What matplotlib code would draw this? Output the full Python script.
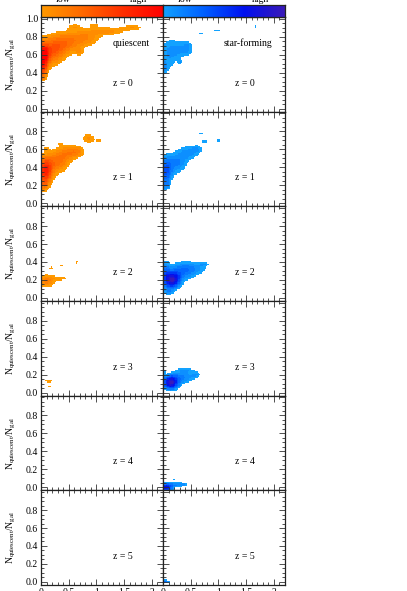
import numpy as np
import matplotlib
matplotlib.use('Agg')
import matplotlib.pyplot as plt
from matplotlib.colors import LinearSegmentedColormap, BoundaryNorm
from matplotlib.ticker import MultipleLocator, FixedLocator

plt.rcParams['font.family'] = ['Liberation Serif', 'DejaVu Serif']
plt.rcParams['mathtext.fontset'] = 'custom'
plt.rcParams['mathtext.rm'] = 'Liberation Serif'
plt.rcParams['mathtext.it'] = 'Liberation Serif:italic'

# ---------------- data ----------------
redshifts = [0, 1, 2, 3, 4, 5]
population_labels = ['quiescent', 'star-forming']
x_ticks = [0, 0.5, 1, 1.5, 2]
x_ticklabels = ['0', '0.5', '1', '1.5', '2']
y_ticks = [0.0, 0.2, 0.4, 0.6, 0.8, 1.0]
y_ticklabels = ['0.0', '0.2', '0.4', '0.6', '0.8', '1.0']

# density components: (x, y, sigma_x, sigma_y, weight)
q_z0 = [(0.04, 0.58, 0.07, 0.09, 1.00), (0.20, 0.64, 0.15, 0.10, 0.50),
        (0.04, 0.42, 0.05, 0.07, 0.40), (0.45, 0.73, 0.18, 0.08, 0.38),
        (0.80, 0.79, 0.18, 0.065, 0.28), (1.20, 0.86, 0.22, 0.035, 0.24),
        (1.65, 0.90, 0.14, 0.022, 0.20), (0.60, 0.91, 0.08, 0.025, 0.17),
        (0.95, 0.93, 0.06, 0.02, 0.16), (0.05, 0.33, 0.03, 0.012, 0.15),
        (0.70, 0.63, 0.06, 0.03, 0.16)]
sf_z0 = [(0.10, 0.60, 0.13, 0.14, 0.19), (0.30, 0.66, 0.13, 0.07, 0.17),
         (0.45, 0.68, 0.07, 0.06, 0.17), (0.03, 0.45, 0.04, 0.05, 0.17),
         (0.01, 0.30, 0.015, 0.015, 0.16), (0.68, 0.84, 0.05, 0.016, 0.17),
         (0.97, 0.87, 0.06, 0.013, 0.16), (1.66, 0.91, 0.03, 0.013, 0.17),
         (0.31, 0.52, 0.03, 0.02, 0.15)]
q_z1 = [(0.08, 0.36, 0.09, 0.10, 0.85), (0.30, 0.46, 0.13, 0.08, 0.40),
        (0.05, 0.20, 0.05, 0.05, 0.25), (0.50, 0.56, 0.14, 0.06, 0.30),
        (0.66, 0.58, 0.09, 0.04, 0.20), (0.86, 0.72, 0.09, 0.04, 0.22),
        (1.05, 0.70, 0.04, 0.015, 0.16), (0.10, 0.61, 0.04, 0.018, 0.15),
        (0.35, 0.66, 0.04, 0.012, 0.15)]
sf_z1 = [(0.05, 0.36, 0.08, 0.10, 0.50), (0.25, 0.45, 0.12, 0.08, 0.30),
         (0.45, 0.56, 0.12, 0.06, 0.22), (0.05, 0.20, 0.05, 0.04, 0.20),
         (0.62, 0.60, 0.08, 0.04, 0.17), (0.75, 0.69, 0.06, 0.025, 0.16),
         (1.00, 0.70, 0.05, 0.015, 0.16), (0.68, 0.77, 0.06, 0.013, 0.16)]
q_z2 = [(0.10, 0.19, 0.10, 0.05, 0.34), (0.35, 0.22, 0.10, 0.025, 0.18),
        (0.19, 0.33, 0.035, 0.014, 0.18), (0.38, 0.36, 0.035, 0.014, 0.18),
        (0.64, 0.40, 0.03, 0.014, 0.18)]
sf_z2 = [(0.16, 0.20, 0.10, 0.06, 1.00), (0.35, 0.30, 0.15, 0.07, 0.35),
         (0.60, 0.33, 0.15, 0.05, 0.20), (0.05, 0.30, 0.05, 0.08, 0.30),
         (0.10, 0.07, 0.06, 0.03, 0.25), (0.75, 0.38, 0.06, 0.02, 0.16)]
q_z3 = [(0.14, 0.13, 0.06, 0.014, 0.20), (0.16, 0.075, 0.03, 0.012, 0.18),
        (0.34, 0.11, 0.025, 0.008, 0.17)]
sf_z3 = [(0.14, 0.11, 0.09, 0.05, 1.00), (0.35, 0.17, 0.15, 0.05, 0.30),
         (0.40, 0.25, 0.10, 0.02, 0.18), (0.60, 0.20, 0.06, 0.03, 0.16),
         (0.02, 0.24, 0.02, 0.02, 0.15)]
q_z4 = []
sf_z4 = [(0.05, 0.00, 0.08, 0.03, 0.80), (0.25, 0.03, 0.10, 0.02, 0.28),
         (0.20, 0.09, 0.03, 0.012, 0.17), (0.38, 0.03, 0.05, 0.015, 0.16)]
q_z5 = []
sf_z5 = [(0.02, 0.00, 0.06, 0.015, 0.50)]

quiescent_panels = [q_z0, q_z1, q_z2, q_z3, q_z4, q_z5]
starforming_panels = [sf_z0, sf_z1, sf_z2, sf_z3, sf_z4, sf_z5]

# ---------------- style ----------------
cmap_q = LinearSegmentedColormap.from_list('q', ['#FF9A00', '#FF6A00', '#FF3000', '#FF0000'])
cmap_sf = LinearSegmentedColormap.from_list('sf', ['#12A2FF', '#0060FF', '#0010F0', '#3A1AB8'])
levels = np.linspace(0.12, 1.0, 11)

W, H = 407, 591
fig = plt.figure(figsize=(W / 100, H / 100), dpi=100)
xl, xm, xr = 41, 163, 285
top, rowh = 17, 94.67

gx = np.arange(0, 2.2, 0.025) + 0.0125
gy = np.arange(-0.05, 1.05, 0.016) + 0.008
GX, GY = np.meshgrid(gx, gy)


def density(comps):
    d = np.zeros_like(GX)
    for (x0, y0, sx, sy, w) in comps:
        d += w * np.exp(-0.5 * (((GX - x0) / sx) ** 2 + ((GY - y0) / sy) ** 2))
    return np.ma.masked_less(d, levels[0])


def style_axes(ax, left, bottom_row):
    ax.set_xlim(0, 2.2)
    ax.set_ylim(-0.035, 1.02)
    ax.xaxis.set_major_locator(FixedLocator(x_ticks))
    ax.xaxis.set_minor_locator(MultipleLocator(0.1))
    ax.yaxis.set_major_locator(FixedLocator(y_ticks))
    ax.yaxis.set_minor_locator(MultipleLocator(0.05))
    ax.tick_params(which='both', direction='in', top=True, right=True,
                   width=0.6, color='#333333', labelsize=7, pad=2)
    ax.tick_params(which='major', length=4)
    ax.tick_params(which='minor', length=2)
    for s in ax.spines.values():
        s.set_linewidth(0.9)
        s.set_color('#222222')
    if bottom_row:
        ax.set_xticklabels(x_ticklabels)
    else:
        ax.set_xticklabels([])
    if left:
        ax.set_yticklabels(y_ticklabels)
    else:
        ax.set_yticklabels([])


for i, z in enumerate(redshifts):
    y0 = H - (top + (i + 1) * rowh)
    for j, (comps, cmap) in enumerate([(quiescent_panels[i], cmap_q),
                                       (starforming_panels[i], cmap_sf)]):
        x0 = xl if j == 0 else xm
        ax = fig.add_axes([x0 / W, y0 / H, (xm - xl) / W, rowh / H])
        if comps:
            d = density(comps)
            norm = BoundaryNorm(levels, cmap.N, extend='max')
            ax.pcolormesh(gx, gy, d, cmap=cmap, norm=norm, shading='nearest')
        style_axes(ax, j == 0, i == len(redshifts) - 1)
        if j == 0:
            if i > 0:
                ax.set_yticks(y_ticks[:-1])
                ax.set_yticklabels(y_ticklabels[:-1])
            ax.set_ylabel(r'N$_{\rm quiescent}$/N$_{\rm gal}$', fontsize=7)
            ax.yaxis.set_label_coords(-0.19, 0.5)
        if i == 0:
            ax.text(0.59 if j == 0 else 0.50, 0.725, population_labels[j],
                    transform=ax.transAxes, fontsize=7, va='center', ha='left')
        ax.text(0.59, 0.30, 'z = %d' % z, transform=ax.transAxes,
                fontsize=7, va='center', ha='left')

# colour bars
grad = np.linspace(0, 1, 256)[None, :]
for j, cmap in enumerate([cmap_q, cmap_sf]):
    x0 = xl if j == 0 else xm
    cax = fig.add_axes([x0 / W, (H - top) / H, (xm - xl) / W, 12 / H])
    cax.imshow(grad, aspect='auto', cmap=cmap, extent=[0, 1, 0, 1])
    cax.set_xticks([])
    cax.set_yticks([])
    for s in cax.spines.values():
        s.set_linewidth(0.9)
        s.set_color('#222222')
    cax.text(0.18, 1.08, 'low', transform=cax.transAxes, fontsize=7,
             ha='center', va='bottom')
    cax.text(0.80, 1.08, 'high', transform=cax.transAxes, fontsize=7,
             ha='center', va='bottom')

fig.savefig('out.png', dpi=100)
